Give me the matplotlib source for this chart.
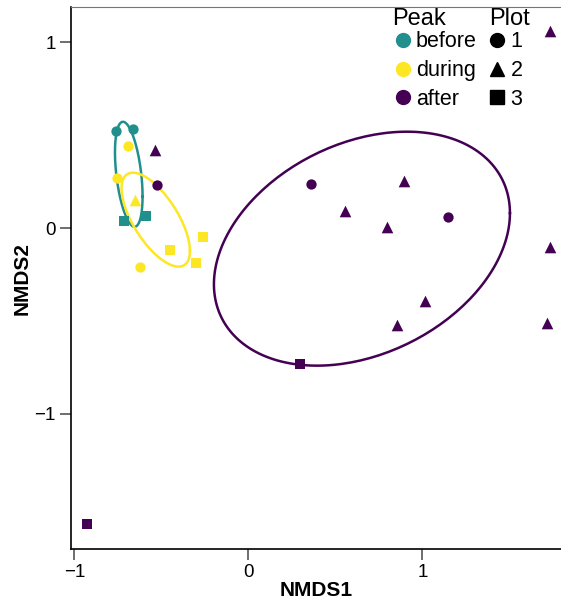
import numpy as np
import matplotlib

matplotlib.use("Agg")
import matplotlib.pyplot as plt
from matplotlib.lines import Line2D

plt.rcParams["font.family"] = ["Liberation Sans", "DejaVu Sans"]

peak_names = ["before", "during", "after"]
peak_colors = {"before": "#21908C", "during": "#FDE725", "after": "#440154"}
plot_names = ["1", "2", "3"]
plot_markers = {"1": "o", "2": "^", "3": "s"}

# site scores
before_x = [-0.761, -0.664, -0.716, -0.589]
before_y = [0.521, 0.532, 0.038, 0.065]
before_plot = ["1", "1", "3", "3"]

during_x = [-0.691, -0.754, -0.652, -0.624, -0.451, -0.263, -0.302]
during_y = [0.441, 0.267, 0.151, -0.211, -0.118, -0.047, -0.186]
during_plot = ["1", "1", "2", "1", "3", "3", "3"]

after_x = [-0.537, -0.528, 0.357, 0.894, 0.555, 1.148, 0.794, 1.733, 1.016, 0.855, 1.714, 0.296, 1.733, -0.926]
after_y = [0.419, 0.231, 0.237, 0.254, 0.093, 0.061, 0.004, -0.104, -0.391, -0.522, -0.509, -0.731, 1.059, -1.591]
after_plot = ["2", "1", "1", "2", "2", "1", "2", "2", "2", "2", "2", "3", "2", "3"]

# dispersion ellipses: centre and (sxx, syy, sxy) shape in data units
ell_center = {"before": (-0.688, 0.289), "during": (-0.533, 0.045), "after": (0.652, -0.111)}
ell_shape = {
    "before": (0.00629, 0.0797, -0.00942),
    "during": (0.03863, 0.06385, -0.03312),
    "after": (0.7235, 0.3957, 0.1627),
}

groups = {
    "before": (before_x, before_y, before_plot),
    "during": (during_x, during_y, during_plot),
    "after": (after_x, after_y, after_plot),
}


def ellipse_path(center, shape, n=200):
    sxx, syy, sxy = shape
    cov = np.array([[sxx, sxy], [sxy, syy]])
    L = np.linalg.cholesky(cov)
    t = np.linspace(0, 2 * np.pi, n)
    pts = L @ np.vstack([np.cos(t), np.sin(t)])
    return center[0] + pts[0], center[1] + pts[1]


W, H = 561, 601
fig = plt.figure(figsize=(W / 100, H / 100), dpi=100)
ax = fig.add_axes([71 / W, 1 - 549 / H, 1 - 71 / W, (549 - 7.3) / H])

for peak in peak_names:
    ex, ey = ellipse_path(ell_center[peak], ell_shape[peak])
    ax.plot(ex, ey, color=peak_colors[peak], linewidth=1.8, zorder=2)

sizes = {"o": 55, "^": 70, "s": 55}
for peak in peak_names:
    xs, ys, pl = groups[peak]
    for x, y, p in zip(xs, ys, pl):
        m = plot_markers[p]
        ax.scatter(x, y, marker=m, s=sizes[m], color=peak_colors[peak], linewidths=0, zorder=3, clip_on=False)

ax.set_xlim(-1.020, 1.796)
ax.set_ylim(-1.726, 1.187)
ax.set_xticks([-1, 0, 1])
ax.set_yticks([-1, 0, 1])
ax.set_xticklabels(["\u22121", "0", "1"])
ax.set_yticklabels(["\u22121", "0", "1"])
ax.tick_params(length=8, width=1.2, color="#555555", labelsize=13.5, pad=3)
ax.spines["right"].set_visible(False)
ax.spines["top"].set_color("#777777")
ax.spines["left"].set_linewidth(1.2)
ax.spines["bottom"].set_linewidth(1.2)
ax.set_xlabel("NMDS1", fontsize=15, fontweight="bold", labelpad=0)
ax.set_ylabel("NMDS2", fontsize=15, fontweight="bold", labelpad=2)

peak_handles = [Line2D([], [], marker="o", linestyle="", markersize=10, color=peak_colors[p]) for p in peak_names]
plot_handles = [Line2D([], [], marker=plot_markers[p], linestyle="", markersize=10, color="black") for p in plot_names]

common = dict(frameon=False, fontsize=15.5, title_fontsize=17, labelspacing=0.36,
              borderpad=0, borderaxespad=0, alignment="left")
leg1 = fig.legend(peak_handles, peak_names, title="Peak", loc="upper left",
                  bbox_to_anchor=(392 / W, 1 - 8 / H), handlelength=1.05, handletextpad=0.05, **common)
leg2 = fig.legend(plot_handles, plot_names, title="Plot", loc="upper left",
                  bbox_to_anchor=(489 / W, 1 - 8 / H), handlelength=0.75, handletextpad=0.25, **common)
for leg in (leg1, leg2):
    leg._legend_box.sep = 1

fig.savefig("out.png", dpi=100)
